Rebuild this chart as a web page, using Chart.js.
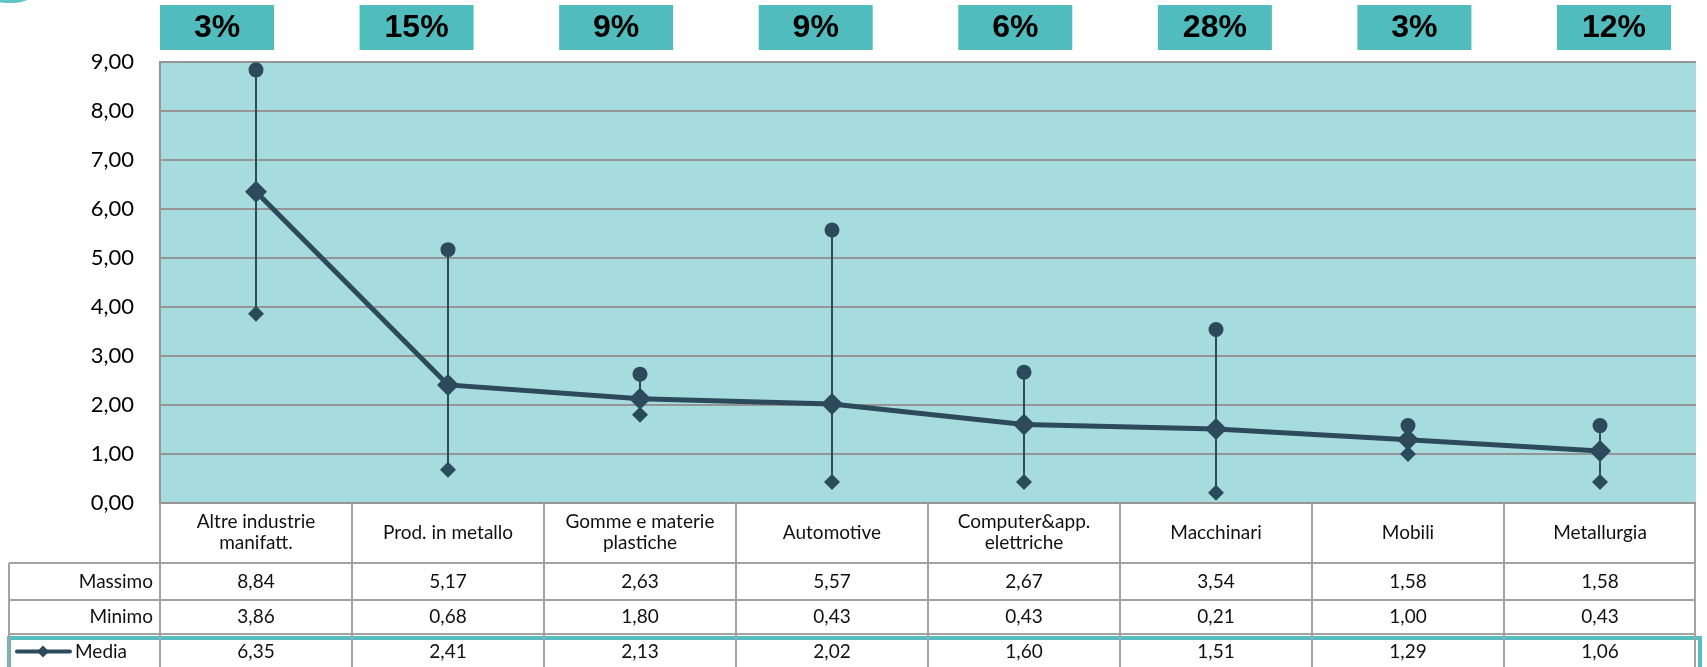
<!DOCTYPE html>
<html>
<head>
<meta charset="utf-8">
<script src="https://cdn.jsdelivr.net/npm/chart.js@4"></script>
<style>
  html, body { margin: 0; padding: 0; background: #ffffff; }
  #wrap { width: 1707px; height: 667px; position: relative; overflow: hidden; }
</style>
</head>
<body>
<div id="wrap"><canvas id="chart" width="1707" height="667"></canvas></div>
<script>
// Sectors (multi-line labels as arrays)
const categories = [
  ["Altre industrie", "manifatt."],
  "Prod. in metallo",
  ["Gomme e materie", "plastiche"],
  "Automotive",
  ["Computer&app.", "elettriche"],
  "Macchinari",
  "Mobili",
  "Metallurgia"
];
// Share of each sector
const shares = ["3%", "15%", "9%", "9%", "6%", "28%", "3%", "12%"];
// Series values
const massimo = [8.84, 5.17, 2.63, 5.57, 2.67, 3.54, 1.58, 1.58];
const minimo  = [3.86, 0.68, 1.80, 0.43, 0.43, 0.21, 1.00, 0.43];
const media   = [6.35, 2.41, 2.13, 2.02, 1.60, 1.51, 1.29, 1.06];
// Value axis range
const yMin = 0, yMax = 9, yStep = 1;

const FONT = "Lato, 'Open Sans', sans-serif";
const DARK = "#2c4a5c";
const TEAL_BOX = "#50bcbd";
const PLOT_BG = "#a7dcdf";
const GRID = "#959595";
const TABLE_LINE = "#a3a3a3";

const fmt = v => v.toFixed(2).replace(".", ",");

// Plot background behind the grid
const plotBackground = {
  id: "plotBackground",
  beforeDraw(chart) {
    const { ctx, chartArea: a } = chart;
    ctx.save();
    ctx.fillStyle = PLOT_BG;
    ctx.fillRect(a.left, a.top, a.right - a.left, a.bottom - a.top);
    ctx.restore();
  }
};

// Vertical high-low lines between Massimo and Minimo
const highLow = {
  id: "highLow",
  beforeDatasetsDraw(chart) {
    const { ctx, scales: { x, y } } = chart;
    ctx.save();
    ctx.strokeStyle = DARK;
    ctx.lineWidth = 2;
    for (let i = 0; i < categories.length; i++) {
      const px = Math.round(x.getPixelForValue(i));
      ctx.beginPath();
      ctx.moveTo(px, y.getPixelForValue(massimo[i]));
      ctx.lineTo(px, y.getPixelForValue(minimo[i]));
      ctx.stroke();
    }
    ctx.restore();
  }
};

// Share boxes above the plot and the data table beneath it
const tableAndShares = {
  id: "tableAndShares",
  afterDraw(chart) {
    const { ctx, chartArea: a, scales: { x } } = chart;
    const n = categories.length;
    const colW = (a.right - a.left) / n;
    ctx.save();

    // small decoration in the corner
    ctx.fillStyle = "#5fc3c3";
    ctx.beginPath();
    ctx.ellipse(10, -5, 22, 8, 0, 0, Math.PI * 2);
    ctx.fill();

    // share boxes
    const boxW = 114, boxH = 45, boxTop = 5;
    const lastRight = a.right - 25;
    const stepB = (lastRight - boxW - a.left) / (n - 1);
    ctx.font = "bold 32px 'Liberation Sans', Arial, sans-serif";
    ctx.textAlign = "center";
    ctx.textBaseline = "middle";
    for (let i = 0; i < n; i++) {
      const bx = a.left + i * stepB;
      ctx.fillStyle = TEAL_BOX;
      ctx.fillRect(bx, boxTop, boxW, boxH);
      ctx.fillStyle = "#000";
      ctx.fillText(shares[i], bx + boxW / 2, boxTop + boxH / 2 + 1);
    }

    // table geometry
    const headLeft = 9;
    const rCat = [a.bottom, 563];
    const rMax = [563, 600];
    const rMin = [600, 634];
    const rMed = [634, 667];
    const bottom = 667;

    // white backdrop for table
    ctx.fillStyle = "#fff";
    ctx.fillRect(a.left, a.bottom + 1, a.right - a.left, bottom - a.bottom);

    // teal frame round the Media row
    ctx.strokeStyle = "#55bfbf";
    ctx.lineWidth = 4;
    ctx.strokeRect(9, 638, 1691, 40);

    ctx.strokeStyle = TABLE_LINE;
    ctx.lineWidth = 2;
    ctx.beginPath();
    // horizontal lines
    ctx.moveTo(headLeft, rMax[0]); ctx.lineTo(a.right, rMax[0]);
    ctx.moveTo(headLeft, rMin[0]); ctx.lineTo(a.right, rMin[0]);
    ctx.moveTo(headLeft, rMed[0]); ctx.lineTo(a.right, rMed[0]);
    // header column left edge
    ctx.moveTo(headLeft, rMax[0]); ctx.lineTo(headLeft, bottom);
    // column separators
    for (let i = 0; i <= n; i++) {
      const bx = Math.round(a.left + i * colW) - (i === n ? 1 : 0);
      ctx.moveTo(bx, a.bottom); ctx.lineTo(bx, bottom);
    }
    ctx.stroke();

    // texts
    ctx.fillStyle = "#111";
    ctx.font = "19px " + FONT;
    ctx.textAlign = "center";
    ctx.textBaseline = "middle";
    for (let i = 0; i < n; i++) {
      const cx = x.getPixelForValue(i);
      const lab = categories[i];
      const midCat = (rCat[0] + rCat[1]) / 2;
      if (Array.isArray(lab)) {
        ctx.fillText(lab[0], cx, midCat - 11);
        ctx.fillText(lab[1], cx, midCat + 10);
      } else {
        ctx.fillText(lab, cx, midCat);
      }
      ctx.fillText(fmt(massimo[i]), cx, (rMax[0] + rMax[1]) / 2);
      ctx.fillText(fmt(minimo[i]), cx, (rMin[0] + rMin[1]) / 2);
      ctx.fillText(fmt(media[i]), cx, (rMed[0] + rMed[1]) / 2 + 1);
    }
    ctx.textAlign = "right";
    ctx.fillText("Massimo", a.left - 7, (rMax[0] + rMax[1]) / 2);
    ctx.fillText("Minimo", a.left - 7, (rMin[0] + rMin[1]) / 2);
    ctx.textAlign = "left";
    ctx.fillText("Media", 75, (rMed[0] + rMed[1]) / 2 + 1);

    // legend key for Media
    const ky = (rMed[0] + rMed[1]) / 2 + 1;
    ctx.strokeStyle = DARK;
    ctx.lineWidth = 4;
    ctx.lineCap = "round";
    ctx.beginPath();
    ctx.moveTo(17, ky); ctx.lineTo(70, ky);
    ctx.stroke();
    ctx.fillStyle = DARK;
    ctx.beginPath();
    ctx.moveTo(43, ky - 6); ctx.lineTo(49, ky); ctx.lineTo(43, ky + 6); ctx.lineTo(37, ky);
    ctx.closePath();
    ctx.fill();

    ctx.restore();
  }
};

new Chart(document.getElementById("chart"), {
  type: "line",
  data: {
    labels: categories,
    datasets: [
      {
        label: "Media",
        data: media,
        borderColor: DARK,
        backgroundColor: DARK,
        borderWidth: 5,
        pointStyle: "rectRot",
        pointRadius: 11,
        pointBorderWidth: 0,
        tension: 0,
        clip: false
      },
      {
        label: "Massimo",
        data: massimo,
        showLine: false,
        borderColor: DARK,
        backgroundColor: DARK,
        pointStyle: "circle",
        pointRadius: 7.5,
        pointBorderWidth: 0,
        clip: false
      },
      {
        label: "Minimo",
        data: minimo,
        showLine: false,
        borderColor: DARK,
        backgroundColor: DARK,
        pointStyle: "rectRot",
        pointRadius: 8,
        pointBorderWidth: 0,
        clip: false
      }
    ]
  },
  options: {
    responsive: false,
    animation: false,
    devicePixelRatio: 1,
    layout: { padding: { left: 0, top: 62, right: 0, bottom: 164 } },
    plugins: { legend: { display: false }, tooltip: { enabled: false } },
    scales: {
      x: {
        type: "category",
        display: false,
        offset: true
      },
      y: {
        min: yMin,
        max: yMax,
        afterFit(scale) { scale.width = 160; },
        ticks: {
          stepSize: yStep,
          padding: 26,
          color: "#000",
          font: { family: FONT, size: 22 },
          callback: v => fmt(v)
        },
        grid: { color: GRID, lineWidth: 2, drawTicks: false },
        border: { display: true, color: GRID, width: 2 }
      }
    }
  },
  plugins: [plotBackground, highLow, tableAndShares]
});
</script>
</body>
</html>
